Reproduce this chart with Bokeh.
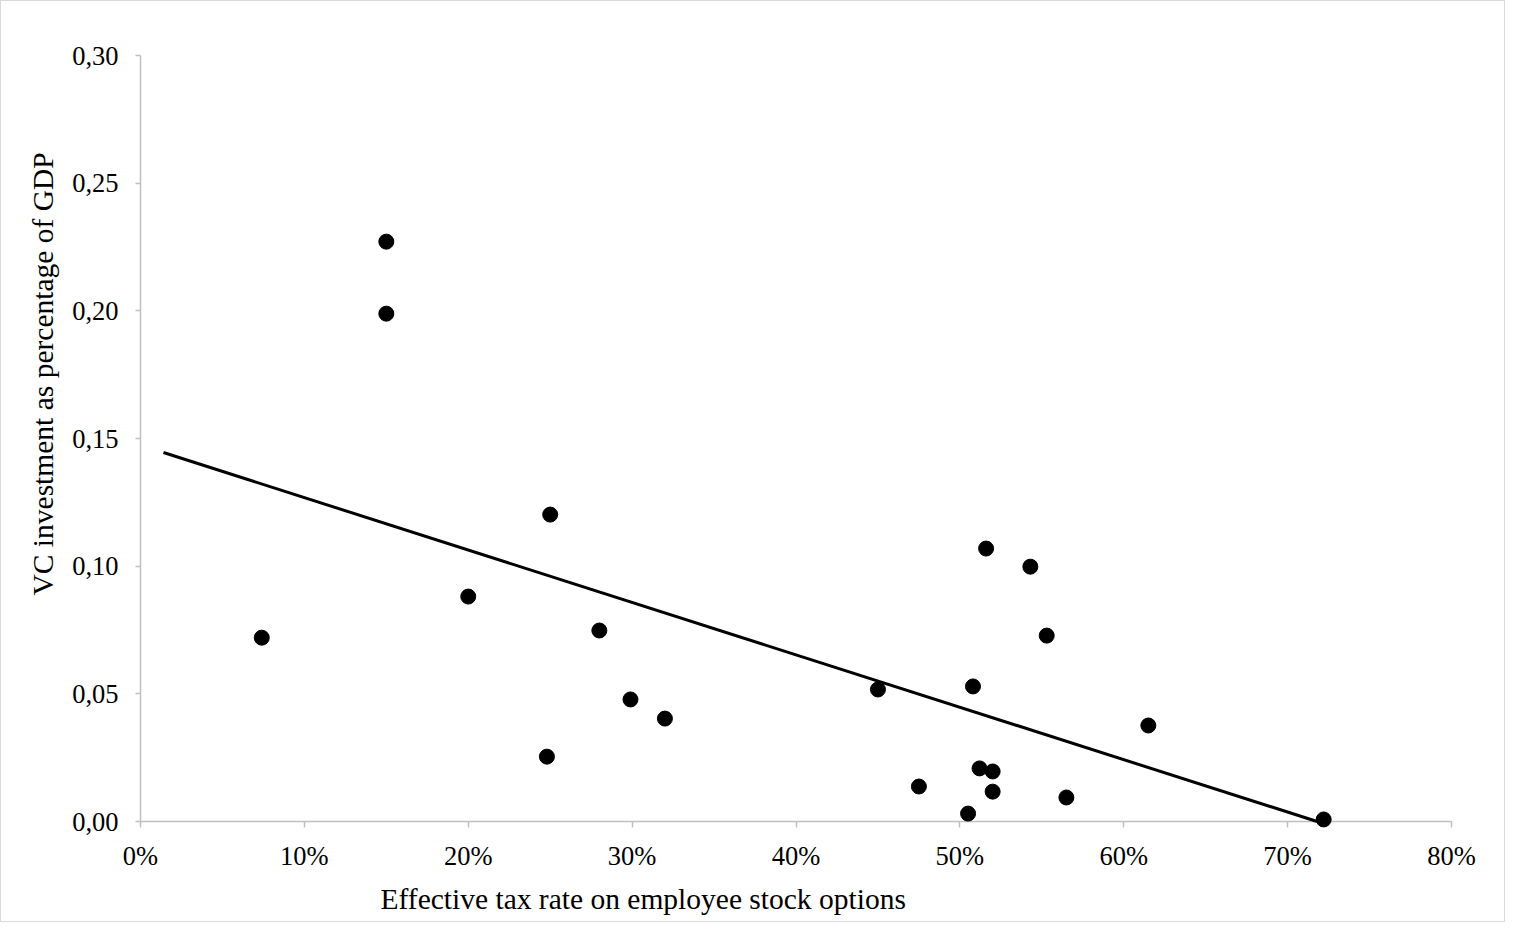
from bokeh.plotting import figure
from bokeh.models import FixedTicker, CustomJSTickFormatter, Title, Range1d
from bokeh.embed import file_html
from bokeh.resources import INLINE

# Effective tax rate on employee stock options (%)
tax_rate = [7.4, 15.0, 15.0, 20.0, 25.0, 24.8, 28.0, 29.9, 32.0, 45.0, 47.5,
            50.5, 50.8, 51.2, 51.6, 52.0, 52.0, 54.3, 55.3, 56.5, 61.5, 72.2]
# VC investment as percentage of GDP
vc_share = [0.0720, 0.2271, 0.1989, 0.0881, 0.1202, 0.0254, 0.0748, 0.0478, 0.0403,
            0.0517, 0.0137, 0.0031, 0.0529, 0.0208, 0.1069, 0.0196, 0.0117, 0.0998,
            0.0728, 0.0094, 0.0376, 0.0008]
# Linear trend line end points
trend_x = [1.4, 71.8]
trend_y = [0.1445, 0.0]

x_ticks = [0, 10, 20, 30, 40, 50, 60, 70, 80]
y_ticks = [0.0, 0.05, 0.10, 0.15, 0.20, 0.25, 0.30]

FONT = "Liberation Serif"
AXIS_COLOR = "#bfbfbf"

p = figure(frame_width=1311, frame_height=766,
           min_border_left=139, min_border_top=54, min_border_right=53, min_border_bottom=96,
           x_range=Range1d(0, 80), y_range=Range1d(0, 0.30),
           output_backend="svg", toolbar_location=None)
p.styles = {"border": "1px solid #d9d9d9"}

p.grid.visible = False
p.outline_line_color = None

p.line(trend_x, trend_y, line_color="black", line_width=3, level="overlay")
p.scatter(tax_rate, vc_share, size=15, fill_color="black", line_color="black", level="overlay")

for ax in (p.xaxis[0], p.yaxis[0]):
    ax.axis_line_color = AXIS_COLOR
    ax.axis_line_width = 1.5
    ax.major_tick_line_color = AXIS_COLOR
    ax.major_tick_line_width = 1.5
    ax.major_tick_in = 0
    ax.minor_tick_line_color = None
    ax.major_label_text_font = FONT
    ax.major_label_text_font_size = "26.5px"
    ax.major_label_text_color = "black"

p.xaxis.ticker = FixedTicker(ticks=x_ticks)
p.yaxis.ticker = FixedTicker(ticks=y_ticks)
p.xaxis.formatter = CustomJSTickFormatter(code="return Math.round(tick) + '%';")
p.yaxis.formatter = CustomJSTickFormatter(code="return tick.toFixed(2).replace('.', ',');")
p.xaxis.major_tick_out = 6
p.yaxis.major_tick_out = 5
p.xaxis.major_label_standoff = 13
p.yaxis.major_label_standoff = 17

x_title = Title(text="Effective tax rate on employee stock options", align="left", offset=240,
                text_font=FONT, text_font_size="29.5px", text_font_style="normal",
                text_color="black", standoff=14)
p.add_layout(x_title, "below")

y_title = Title(text="VC investment as percentage of GDP", align="left", offset=226,
                text_font=FONT, text_font_size="29.5px", text_font_style="normal",
                text_color="black", standoff=22)
p.add_layout(y_title, "left")

open("out.html", "w").write(file_html(p, INLINE))
